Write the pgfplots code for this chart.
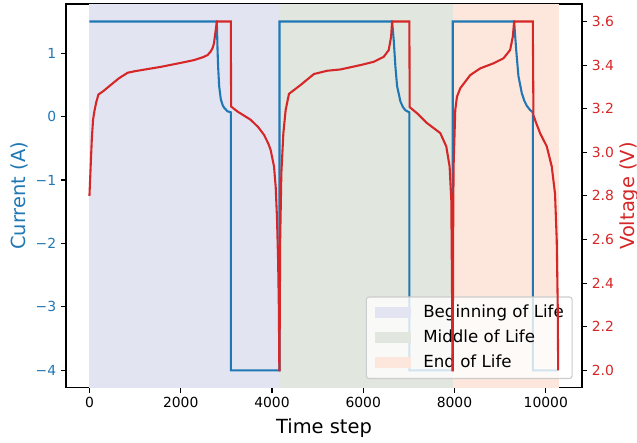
\documentclass[border=0pt]{standalone}
\usepackage{fontspec}
\setmainfont{DejaVu Sans}
\usepackage{pgfplots}
\pgfplotsset{compat=1.18}
\usetikzlibrary{calc}
\definecolor{cblue}{HTML}{1F77B4}
\definecolor{cred}{HTML}{D62728}
\definecolor{bol}{HTML}{E2E4F1}
\definecolor{mol}{HTML}{E1E6DF}
\definecolor{eol}{HTML}{FDE6DC}
\begin{document}
\begin{tikzpicture}
\pgfplotsset{
  base/.style={width=371.5pt, height=276.3pt, scale only axis,
    xmin=-514, xmax=10794, scaled x ticks=false, scaled y ticks=false,
    axis line style={line width=0.8pt},
    major tick style={line width=0.8pt, black},
    major tick length=3.5pt, tick align=outside,
    tick label style={font=\fontsize{10}{12}\selectfont},
    label style={font=\fontsize{14}{16}\selectfont}}
}
\begin{axis}[base, name=ax,
  ymin=-4.275, ymax=1.775,
  xtick pos=bottom, ytick pos=left,
  xtick={0,2000,4000,6000,8000,10000},
  xticklabels={0,2000,4000,6000,8000,10000},
  ytick={-4,-3,-2,-1,0,1},
  yticklabels={−4,−3,−2,−1,0,1},
  yticklabel style={text=cblue},
  xlabel={Time step}, ylabel={Current (A)},
  xlabel style={at={(axis description cs:0.5,-0.1187)}, anchor=base},
  ylabel style={text=cblue, at={(axis description cs:-0.0794,0.5)}, anchor=base},
  legend cell align=left,
  legend image code/.code={\fill[#1, sharp corners, fill opacity=1] (0pt,-4pt) rectangle (26pt,4pt); \path (35pt,0pt);},
  legend style={at={(axis description cs:0.982,0.0227)}, anchor=south east,
    font=\fontsize{12}{14}\selectfont, draw=black!20, line width=0.8pt,
    fill=white, fill opacity=0.8, draw opacity=1, text opacity=1,
    rounded corners=2pt, inner xsep=6pt, inner ysep=5.6pt, row sep=6.5pt,
    nodes={inner sep=0pt, text height=9pt, text depth=2.5pt}}
]
\addplot[draw=none, fill=bol] coordinates {(0,-5)(4165,-5)(4165,2)(0,2)};
\addlegendentry{Beginning of Life}
\addplot[draw=none, fill=mol] coordinates {(4165,-5)(7962,-5)(7962,2)(4165,2)};
\addlegendentry{Middle of Life}
\addplot[draw=none, fill=eol] coordinates {(7962,-5)(10285,-5)(10285,2)(7962,2)};
\addlegendentry{End of Life}
\addplot[cblue, line width=1.5pt, forget plot] coordinates {
  (0,1.5)(2792,1.5)(2807,1.06)(2820,0.79)(2843,0.48)(2880,0.27)(2920,0.18)
  (2952,0.14)(3025,0.084)(3098,0.068)(3098,-4)(4165,-4)(4165,1.5)
  (6633,1.5)(6668,1.21)(6705,0.79)(6742,0.48)(6815,0.24)(6870,0.15)(6924,0.10)
  (7011,0.068)(7011,-4)(7962,-4)(7962,1.5)
  (9307,1.5)(9351,1.06)(9401,0.64)(9475,0.37)(9530,0.25)(9585,0.17)(9650,0.11)
  (9716,0.068)(9716,-4)(10272,-4)
};
\end{axis}
\begin{axis}[base,
  ymin=1.92, ymax=3.68,
  hide x axis, axis y line*=right,
  ytick={2.0,2.2,2.4,2.6,2.8,3.0,3.2,3.4,3.6},
  yticklabels={2.0,2.2,2.4,2.6,2.8,3.0,3.2,3.4,3.6},
  yticklabel style={text=cred},
  ylabel={Voltage (V)},
  ylabel style={text=cred, at={(axis description cs:1.1008,0.5)}, anchor=base}
]
\addplot[cred, line width=1.5pt] coordinates {
  (0,2.80)(20,2.90)(52,3.06)(80,3.15)(110,3.19)(150,3.23)(197,3.265)(300,3.28)
  (474,3.31)(650,3.34)(839,3.365)(1000,3.372)(1568,3.392)(2000,3.41)(2296,3.423)
  (2500,3.437)(2588,3.446)(2650,3.46)(2697,3.477)(2730,3.50)(2748,3.53)(2770,3.565)
  (2792,3.6)(3098,3.6)(3105,3.21)(3244,3.187)(3535,3.149)(3700,3.115)(3826,3.08)
  (3920,3.04)(3972,3.01)(4045,2.935)(4082,2.84)(4110,2.7)(4135,2.5)(4150,2.3)(4162,2.0)
  (4165,2.0)(4180,2.6)(4206,2.905)(4250,3.088)(4300,3.194)(4373,3.268)(4629,3.309)
  (4920,3.359)(5212,3.374)(5503,3.38)(5940,3.40)(6231,3.415)(6450,3.438)(6559,3.469)
  (6611,3.53)(6633,3.6)(7011,3.6)(7018,3.207)(7180,3.179)(7398,3.134)(7689,3.088)
  (7820,3.027)(7893,2.935)(7930,2.78)(7945,2.4)(7955,2.0)
  (7962,2.0)(7970,2.6)(7980,2.935)(8017,3.194)(8054,3.255)(8127,3.294)(8345,3.354)
  (8564,3.385)(8855,3.408)(9073,3.431)(9219,3.469)(9278,3.53)(9307,3.6)(9716,3.6)
  (9730,3.17)(9780,3.14)(9875,3.088)(10022,3.027)(10131,2.935)(10203,2.81)(10240,2.6)
  (10262,2.3)(10272,2.0)
};
\end{axis}
\pgfresetboundingbox
\path[use as bounding box] ($(ax.south west)+(-47.5pt,-39.1pt)$) rectangle ($(ax.north east)+(39.6pt,2.9pt)$);
\end{tikzpicture}
\end{document}
